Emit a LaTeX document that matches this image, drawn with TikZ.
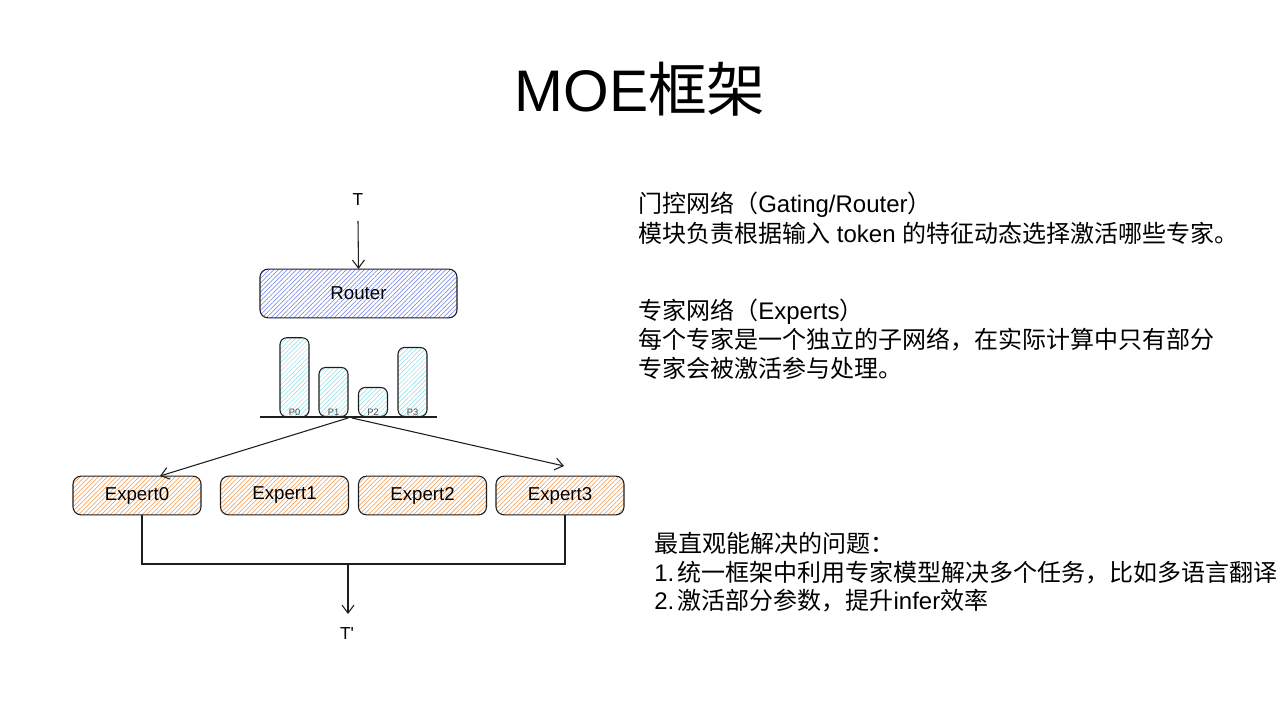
\documentclass[tikz,border=0pt]{standalone}
\usepackage{fontspec}
\setmainfont{Liberation Sans}
\newfontfamily\cjk{Noto Sans CJK SC}
\usetikzlibrary{patterns.meta,arrows.meta}
\definecolor{routerhatch}{RGB}{105,125,230}
\definecolor{experthatch}{RGB}{245,150,70}
\definecolor{barhatch}{RGB}{140,220,232}
\definecolor{inkc}{RGB}{30,30,30}
\begin{document}
\begin{tikzpicture}[x=0.75pt,y=-0.75pt,
  ink/.style={draw=inkc,line width=0.8pt},
  boxbase/.style={ink,rounded corners=6pt,inner sep=0pt,font=\fontsize{14}{16}\selectfont},
  routerbox/.style={boxbase,minimum width=147.75pt,minimum height=36.5pt,
    pattern={Lines[angle=45,distance=2.4pt,line width=0.4pt]},pattern color=routerhatch},
  expertbox/.style={boxbase,minimum width=96pt,minimum height=29pt,
    pattern={Lines[angle=45,distance=2.4pt,line width=0.4pt]},pattern color=experthatch},
  barbox/.style={ink,rounded corners=5pt,anchor=south,minimum width=21.75pt,inner sep=0pt,
    pattern={Lines[angle=45,distance=2.4pt,line width=0.35pt]},pattern color=barhatch},
  plabel/.style={font=\fontsize{7}{8}\selectfont,text=inkc!80,inner sep=1pt},
  arr/.style={ink,-{Straight Barb[length=6pt,width=9pt]}},
  wire/.style={ink},
  lbl/.style={font=\fontsize{13}{15}\selectfont,inner sep=0pt},
  txt/.style={anchor=west,inner sep=0pt,font=\fontsize{18}{21}\selectfont}
]
\fill[white] (0,0) rectangle (1280,720);
\useasboundingbox (0,0) rectangle (1280,720);

% title
\node[font=\fontsize{44}{50}\selectfont,inner sep=0pt] (title) at (640,89) {MOE{\cjk 框架}};

% input
\node[lbl] (tin) at (358,200) {T};
\coordinate (tinend) at (358,221);
\node[routerbox] (router) at (358.5,293.5) {Router};
\draw[arr] (tinend) -- (router.north);

% probability bars
\node[barbox,minimum height=59.25pt,label={[plabel,anchor=south]south:P0}] (p0) at (294.5,417) {};
\node[barbox,minimum height=36.75pt,label={[plabel,anchor=south]south:P1}] (p1) at (333.5,417) {};
\node[barbox,minimum height=21.75pt,label={[plabel,anchor=south]south:P2}] (p2) at (373,417) {};
\node[barbox,minimum height=51.75pt,label={[plabel,anchor=south]south:P3}] (p3) at (412.5,417) {};
\coordinate (bl) at (260,417);
\coordinate (br) at (437,417);
\draw[ink] (bl) -- (br);
\coordinate (splitl) at (348,418);
\coordinate (splitr) at (352,418);

% experts
\node[expertbox] (e0) at (137,495.5) {Expert0};
\node[expertbox] (e1) at (284.5,495.5) {Expert1};
\node[expertbox] (e2) at (422.5,495.5) {Expert2};
\node[expertbox] (e3) at (560,495.5) {Expert3};
\coordinate (a0) at (160,476);
\coordinate (a3) at (564,466);
\draw[arr] (splitl) -- (a0);
\draw[arr] (splitr) -- (a3);

% merge
\coordinate (merge) at (348,564);
\draw[wire] ([xshift=3.75pt]e0.south) |- (merge) -| ([xshift=3.75pt]e3.south);
\node[lbl] (tout) at (347,634) {T\textquotesingle};
\coordinate (toutend) at (348,614);
\draw[arr] (merge) -- (toutend);

% right texts
\node[txt] (g1) at (638,205) {{\cjk 门控网络（}Gating/Router{\cjk ）}};
\node[txt] (g2) at (638,233) {{\cjk 模块负责根据输入} token {\cjk 的特征动态选择激活哪些专家。}};
\node[txt] (x1) at (638,312) {{\cjk 专家网络（}Experts{\cjk ）}};
\node[txt] (x2) at (638,340) {\cjk 每个专家是一个独立的子网络，在实际计算中只有部分};
\node[txt] (x3) at (638,368) {\cjk 专家会被激活参与处理。};
\node[txt] (q0) at (654,543) {\cjk 最直观能解决的问题：};
\node[txt] (q1) at (654,573) {1.\kern2.5pt{\cjk 统一框架中利用专家模型解决多个任务，比如多语言翻译}};
\node[txt] (q2) at (654,601) {2.\kern2.5pt{\cjk 激活部分参数，提升}infer{\cjk 效率}};
\end{tikzpicture}
\end{document}
